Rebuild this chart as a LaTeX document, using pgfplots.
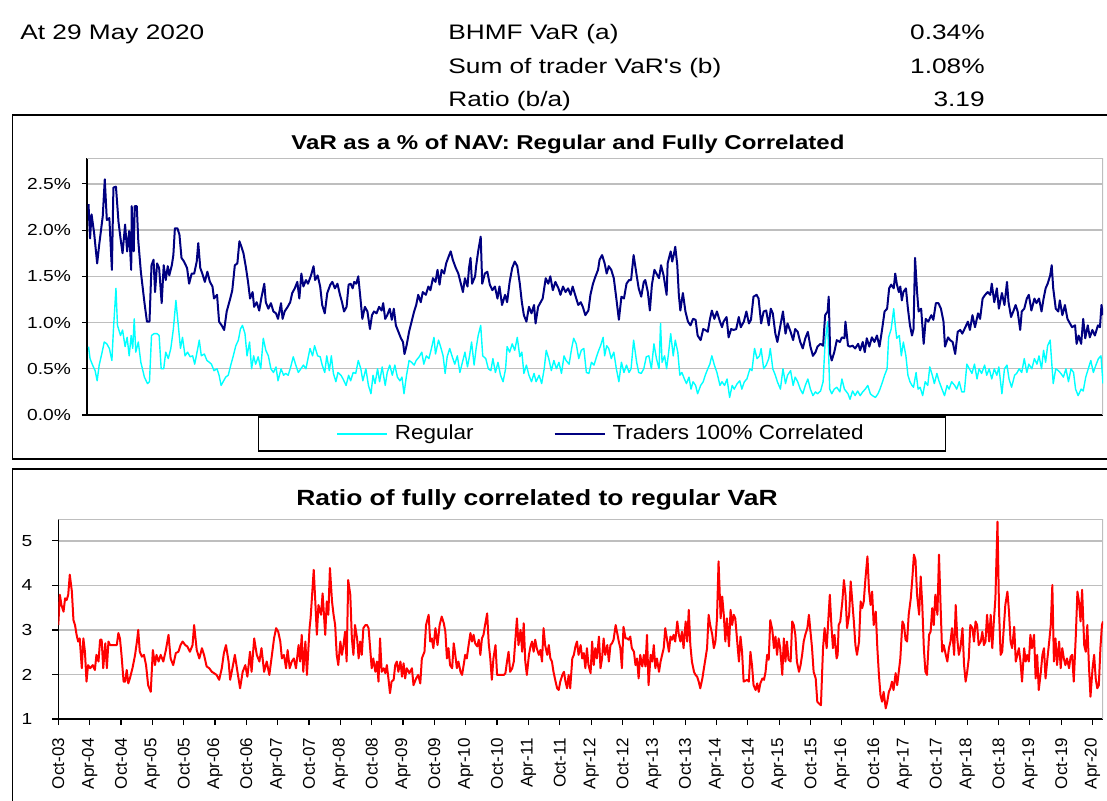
\documentclass[border=0pt]{standalone}
\usepackage{fontspec}
\setmainfont{Liberation Sans}[FakeStretch=1.2]
\newfontfamily\headfont{Liberation Sans}[FakeStretch=1.25]
\newfontfamily\legfont{Liberation Sans}[FakeStretch=1.1]
\newfontfamily\plainsans{Liberation Sans}
\usepackage{pgfplots}
\pgfplotsset{compat=1.18}
\definecolor{navyc}{RGB}{0,0,128}
\definecolor{aquac}{RGB}{0,255,255}
\definecolor{gridc}{RGB}{190,190,190}
\begin{document}
\begin{tikzpicture}
\useasboundingbox (0,0) rectangle (553.5pt,-400pt);
% header
\begin{scope}[every node/.style={inner sep=0pt,font=\headfont\fontsize{10.5}{12}\selectfont}]
\node[anchor=base west] at (10pt,-19.7pt) {At 29 May 2020};
\node[anchor=base west] at (224pt,-19.7pt) {BHMF VaR (a)};
\node[anchor=base west] at (224pt,-36.7pt) {Sum of trader VaR's (b)};
\node[anchor=base west] at (224pt,-53pt) {Ratio (b/a)};
\node[anchor=base east] at (492.5pt,-19.7pt) {0.34\%};
\node[anchor=base east] at (492.5pt,-36.7pt) {1.08\%};
\node[anchor=base east] at (492.5pt,-53pt) {3.19};
\end{scope}
% frames
\draw[line width=0.8pt] (6.25pt,-57.5pt) rectangle (556pt,-229.5pt);
\draw[line width=0.8pt] (6.25pt,-234.5pt) rectangle (556pt,-405pt);
% titles
\node[anchor=base,inner sep=0pt,font=\bfseries\fontsize{10}{12}\selectfont] at (284pt,-74.7pt) {VaR as a \% of NAV: Regular and Fully Correlated};
\node[anchor=base,inner sep=0pt,font=\bfseries\fontsize{11}{13}\selectfont] at (268.5pt,-252.8pt) {Ratio of fully correlated to regular VaR};

\begin{axis}[
  name=top,
  scale only axis, width=508pt, height=128.5pt,
  at={(43.5pt,-207.5pt)}, anchor=south west,
  xmin=0, xmax=200, ymin=0, ymax=2.78,
  xtick=\empty, ytick={0,0.5,1,1.5,2,2.5},
  /pgf/number format/assume math mode=true,
  yticklabel={\pgfmathprintnumber[fixed,fixed zerofill,precision=1]{\tick}\%},
  yticklabel style={font=\fontsize{8}{9}\selectfont, xshift=-2pt},
  axis lines*=left, axis line style={-, black, line width=0.8pt},
  tick style={black, line width=0.6pt}, major tick length=2.5pt, tick align=outside,
  ymajorgrids, grid style={gridc, line width=0.7pt},
  legend columns=2,
  legend style={at={(0.507,-0.074)}, anchor=center, draw=black, line width=0.8pt,
    font=\legfont\fontsize{10.2}{12}\selectfont, inner xsep=39pt, inner ysep=2pt,
    /tikz/every even column/.append style={column sep=38pt}},
  legend image code/.code={\draw[#1] (0pt,0pt) -- (25pt,0pt); \path (26.5pt,0pt);},
]
\draw[gridc, line width=0.6pt] (rel axis cs:0,1) -- (rel axis cs:1,1) -- (rel axis cs:1,0);
\addplot[aquac, line width=0.7pt, line join=round] coordinates {
(0.3,0.74)(0.6,0.61)(1.1,0.54)(1.6,0.48)(2.0,0.37)(2.4,0.54)(2.9,0.66)(3.4,0.79)(3.9,0.77)(4.4,0.72)
(4.9,0.59)(5.2,0.92)(5.7,1.37)(6.0,0.97)(6.6,0.86)(7.0,0.92)(7.5,0.74)(7.9,0.84)(8.3,0.64)(8.7,0.86)
(9.0,0.72)(9.3,1.04)(9.6,0.68)(10.1,0.79)(10.6,0.57)(11.3,0.41)(11.9,0.34)(12.3,0.36)(12.7,0.86)(13.2,0.88)
(13.8,0.88)(14.2,0.86)(14.6,0.50)(15.1,0.50)(15.5,0.68)(16.0,0.61)(16.5,0.72)(17.0,0.93)(17.5,1.24)(17.9,1.01)
(18.4,0.72)(18.8,0.84)(19.3,0.64)(19.8,0.68)(20.3,0.63)(20.8,0.64)(21.2,0.55)(21.8,0.72)(22.1,0.81)(22.5,0.64)
(23.1,0.66)(23.6,0.59)(24.1,0.57)(24.5,0.55)(25.0,0.48)(25.6,0.50)(26.0,0.43)(26.4,0.32)(26.9,0.37)(27.3,0.41)
(27.8,0.43)(28.3,0.54)(28.8,0.64)(29.3,0.75)(29.8,0.81)(30.2,0.93)(30.6,0.97)(31.1,0.88)(31.5,0.64)(32.0,0.79)
(32.4,0.50)(32.8,0.64)(33.2,0.55)(33.7,0.63)(34.2,0.50)(34.7,0.83)(35.2,0.70)(35.7,0.64)(36.2,0.50)(36.7,0.46)
(37.2,0.52)(37.6,0.37)(38.2,0.50)(38.7,0.43)(39.1,0.45)(39.6,0.43)(40.1,0.52)(40.6,0.63)(41.1,0.54)(41.6,0.46)
(42.1,0.50)(42.6,0.54)(43.1,0.50)(43.5,0.61)(43.9,0.72)(44.4,0.64)(44.8,0.75)(45.4,0.64)(45.9,0.63)(46.3,0.54)
(46.8,0.46)(47.2,0.64)(47.7,0.48)(48.1,0.64)(48.5,0.45)(49.0,0.36)(49.4,0.46)(50.0,0.43)(50.4,0.39)(51.0,0.32)
(51.5,0.43)(51.9,0.37)(52.4,0.46)(52.9,0.45)(53.4,0.59)(53.9,0.50)(54.3,0.37)(54.9,0.50)(55.4,0.32)(55.9,0.23)
(56.3,0.43)(56.7,0.34)(57.2,0.50)(57.6,0.36)(58.1,0.52)(58.7,0.32)(59.1,0.46)(59.6,0.54)(60.1,0.43)(60.6,0.54)
(61.1,0.41)(61.6,0.37)(62.0,0.41)(62.4,0.23)(62.9,0.43)(63.4,0.59)(63.9,0.57)(64.4,0.54)(64.8,0.59)(65.4,0.63)
(65.9,0.68)(66.3,0.55)(66.8,0.64)(67.3,0.61)(67.8,0.72)(68.3,0.84)(68.6,0.66)(69.2,0.81)(69.6,0.74)(70.1,0.64)
(70.5,0.45)(70.9,0.63)(71.4,0.72)(71.9,0.63)(72.4,0.55)(72.9,0.64)(73.4,0.46)(73.9,0.57)(74.4,0.68)(74.9,0.52)
(75.3,0.64)(75.7,0.79)(76.2,0.54)(76.6,0.72)(77.0,0.86)(77.5,0.97)(77.9,0.64)(78.5,0.61)(79.0,0.50)(79.5,0.48)
(79.9,0.61)(80.4,0.46)(80.9,0.57)(81.4,0.43)(81.9,0.36)(82.4,0.50)(82.7,0.74)(83.2,0.68)(83.7,0.77)(84.2,0.70)
(84.7,0.84)(85.2,0.63)(85.6,0.68)(86.0,0.45)(86.5,0.54)(87.0,0.43)(87.5,0.36)(88.0,0.45)(88.4,0.36)(89.0,0.43)
(89.5,0.34)(90.0,0.50)(90.4,0.70)(90.9,0.61)(91.4,0.48)(91.9,0.59)(92.4,0.50)(92.9,0.57)(93.4,0.45)(93.9,0.64)
(94.3,0.59)(94.9,0.55)(95.4,0.72)(95.8,0.83)(96.3,0.77)(96.8,0.61)(97.3,0.70)(97.8,0.72)(98.3,0.46)(98.8,0.45)
(99.3,0.57)(99.8,0.54)(100.3,0.63)(100.6,0.68)(101.1,0.75)(101.6,0.84)(101.9,0.64)(102.3,0.75)(102.7,0.72)(103.2,0.61)
(103.7,0.68)(104.2,0.50)(104.7,0.36)(105.2,0.57)(105.7,0.46)(106.2,0.54)(106.7,0.46)(107.1,0.50)(107.6,0.81)(108.2,0.57)
(108.6,0.46)(109.1,0.45)(109.6,0.50)(110.1,0.63)(110.6,0.64)(111.1,0.50)(111.6,0.77)(112.1,0.61)(112.6,0.50)(112.9,0.99)
(113.2,0.57)(113.7,0.64)(114.1,0.50)(114.5,0.68)(114.9,0.88)(115.4,0.64)(115.8,0.81)(116.3,0.68)(116.7,0.43)(117.1,0.46)
(117.6,0.39)(118.0,0.34)(118.5,0.41)(118.9,0.28)(119.3,0.36)(119.8,0.32)(120.2,0.23)(120.8,0.32)(121.3,0.36)(121.7,0.43)
(122.2,0.50)(122.6,0.55)(123.0,0.64)(123.5,0.54)(124.0,0.46)(124.6,0.32)(125.0,0.36)(125.5,0.32)(126.0,0.39)(126.5,0.19)
(127.0,0.32)(127.4,0.28)(128.0,0.34)(128.5,0.37)(128.9,0.28)(129.4,0.36)(129.9,0.39)(130.5,0.50)(130.9,0.48)(131.4,0.72)
(131.9,0.61)(132.4,0.64)(132.7,0.72)(133.2,0.50)(133.7,0.54)(134.2,0.61)(134.5,0.72)(135.0,0.50)(135.5,0.43)(135.9,0.36)
(136.5,0.28)(137.0,0.50)(137.5,0.34)(137.9,0.43)(138.5,0.48)(139.0,0.32)(139.4,0.41)(139.9,0.36)(140.4,0.28)(140.9,0.23)
(141.4,0.32)(141.9,0.39)(142.4,0.28)(142.9,0.21)(143.4,0.25)(143.8,0.23)(144.4,0.26)(144.9,0.36)(145.3,0.79)(145.8,1.01)
(146.2,0.28)(146.6,0.23)(147.1,0.28)(147.6,0.30)(148.2,0.25)(148.6,0.39)(149.1,0.28)(149.8,0.23)(150.2,0.17)(150.7,0.26)
(151.2,0.21)(151.7,0.26)(152.2,0.21)(152.7,0.25)(153.2,0.28)(153.7,0.32)(154.2,0.23)(154.6,0.21)(155.2,0.19)(155.7,0.23)
(156.1,0.28)(156.6,0.36)(157.0,0.43)(157.5,0.50)(157.8,0.84)(158.3,0.93)(158.8,1.15)(159.1,0.97)(159.4,0.83)(159.9,0.86)
(160.3,0.64)(160.7,0.79)(161.2,0.64)(161.6,0.43)(162.0,0.36)(162.4,0.32)(162.7,0.30)(163.2,0.46)(163.6,0.28)(164.0,0.30)
(164.5,0.21)(165.0,0.36)(165.5,0.32)(165.9,0.52)(166.4,0.43)(166.8,0.34)(167.3,0.45)(167.7,0.37)(168.3,0.28)(168.8,0.21)
(169.3,0.32)(169.7,0.28)(170.2,0.36)(170.8,0.32)(171.2,0.28)(171.7,0.36)(172.2,0.25)(172.7,0.25)(173.2,0.55)(173.7,0.50)
(174.2,0.45)(174.7,0.55)(175.2,0.39)(175.6,0.50)(176.1,0.45)(176.7,0.54)(177.1,0.43)(177.6,0.50)(178.1,0.39)(178.6,0.50)
(179.1,0.43)(179.5,0.52)(180.1,0.23)(180.6,0.50)(181.1,0.54)(181.5,0.39)(182.0,0.30)(182.6,0.43)(183.0,0.45)(183.5,0.50)
(184.0,0.46)(184.5,0.61)(185.0,0.46)(185.4,0.55)(186.0,0.50)(186.5,0.61)(187.0,0.55)(187.4,0.64)(187.9,0.50)(188.3,0.70)
(188.7,0.57)(189.1,0.75)(189.6,0.81)(189.9,0.57)(190.2,0.34)(190.7,0.50)(191.2,0.48)(191.7,0.45)(192.2,0.41)(192.7,0.50)
(193.2,0.36)(193.7,0.50)(194.2,0.46)(194.6,0.28)(195.1,0.21)(195.7,0.28)(196.1,0.26)(196.6,0.41)(197.1,0.50)(197.6,0.59)
(198.1,0.46)(198.6,0.54)(199.1,0.61)(199.6,0.64)(200.0,0.34)
};
\addlegendentry{Regular}
\addplot[navyc, line width=1pt, line join=round] coordinates {
(0.3,2.28)(0.6,1.91)(0.9,2.17)(1.4,1.97)(2.0,1.64)(2.4,1.84)(3.1,2.15)(3.5,2.55)(3.9,2.11)(4.4,2.13)
(4.9,1.57)(5.2,2.46)(5.7,2.47)(6.2,2.09)(6.6,1.91)(7.0,1.75)(7.5,2.06)(7.9,1.77)(8.3,1.99)(8.7,1.57)
(8.8,2.26)(9.2,1.77)(9.4,2.26)(9.8,2.26)(10.1,1.88)(10.6,1.55)(11.3,1.22)(11.8,1.01)(12.3,1.01)(12.7,1.62)
(13.1,1.68)(13.4,1.33)(13.8,1.64)(14.2,1.59)(14.7,1.21)(15.1,1.62)(15.5,1.46)(15.9,1.61)(16.2,1.51)(16.7,1.62)
(17.0,1.73)(17.3,2.02)(17.8,2.02)(18.2,1.95)(18.6,1.70)(19.1,1.66)(19.7,1.59)(20.1,1.42)(20.6,1.53)(21.1,1.53)
(21.6,1.66)(21.9,1.86)(22.3,1.59)(22.7,1.53)(23.2,1.44)(23.7,1.55)(24.2,1.44)(24.7,1.39)(25.0,1.26)(25.6,1.30)
(26.0,1.01)(26.5,0.97)(27.0,0.92)(27.5,1.12)(28.2,1.26)(28.6,1.35)(29.1,1.62)(29.6,1.64)(30.0,1.88)(30.4,1.82)
(30.8,1.75)(31.3,1.59)(31.7,1.44)(32.1,1.26)(32.6,1.33)(32.9,1.17)(33.4,1.22)(33.9,1.13)(34.3,1.26)(34.9,1.42)
(35.2,1.22)(35.7,1.15)(36.2,1.21)(36.7,1.12)(37.2,1.10)(37.6,1.04)(38.2,1.21)(38.5,1.04)(38.9,1.12)(39.5,1.17)
(40.0,1.22)(40.4,1.32)(40.9,1.37)(41.4,1.44)(41.8,1.26)(42.2,1.53)(42.6,1.39)(43.1,1.46)(43.5,1.42)(44.1,1.51)
(44.6,1.61)(44.9,1.46)(45.4,1.51)(45.9,1.39)(46.3,1.19)(46.8,1.10)(47.3,1.32)(47.9,1.41)(48.3,1.44)(48.8,1.37)
(49.3,1.42)(49.8,1.30)(50.2,1.22)(50.6,1.12)(51.1,1.17)(51.5,1.41)(51.9,1.42)(52.3,1.37)(52.6,1.44)(53.0,1.42)
(53.4,1.50)(53.9,1.22)(54.2,1.04)(54.7,1.17)(55.2,1.12)(55.7,0.93)(56.1,1.08)(56.5,1.12)(57.0,1.10)(57.5,1.17)
(58.0,1.13)(58.3,1.21)(58.7,1.04)(59.1,1.08)(59.6,1.15)(60.0,1.03)(60.4,1.15)(60.8,0.97)(61.3,0.90)(61.8,0.83)
(62.2,0.79)(62.5,0.66)(62.9,0.75)(63.4,0.90)(63.9,1.01)(64.4,1.12)(64.8,1.19)(65.2,1.30)(65.7,1.22)(66.1,1.33)
(66.7,1.30)(67.2,1.39)(67.6,1.35)(68.1,1.48)(68.6,1.44)(69.0,1.57)(69.4,1.41)(69.8,1.57)(70.3,1.53)(70.7,1.64)
(71.3,1.73)(71.6,1.77)(72.0,1.68)(72.6,1.59)(73.1,1.53)(73.5,1.44)(74.0,1.33)(74.4,1.48)(74.9,1.39)(75.2,1.59)
(75.5,1.70)(75.8,1.42)(76.4,1.50)(76.6,1.61)(77.0,1.77)(77.5,1.93)(77.8,1.42)(78.3,1.53)(78.8,1.55)(79.3,1.41)
(79.8,1.35)(80.3,1.39)(80.8,1.26)(81.2,1.39)(81.7,1.19)(82.3,1.30)(82.7,1.22)(83.2,1.44)(83.7,1.59)(84.2,1.66)
(84.7,1.61)(85.2,1.42)(85.6,1.22)(86.0,1.08)(86.5,1.01)(87.0,1.17)(87.5,1.10)(88.0,1.19)(88.3,0.99)(88.8,1.17)
(89.3,1.22)(89.7,1.26)(90.3,1.48)(90.8,1.42)(91.2,1.50)(91.7,1.35)(92.2,1.44)(92.8,1.37)(93.2,1.30)(93.7,1.39)
(94.2,1.33)(94.7,1.37)(95.2,1.30)(95.6,1.39)(96.2,1.28)(96.7,1.19)(97.2,1.22)(97.6,1.17)(98.1,1.08)(98.7,1.13)
(99.1,1.30)(99.6,1.42)(100.1,1.50)(100.6,1.57)(100.9,1.68)(101.4,1.73)(101.9,1.64)(102.3,1.53)(102.7,1.61)(103.2,1.57)
(103.7,1.48)(104.2,1.26)(104.7,1.03)(105.2,1.28)(105.7,1.26)(106.2,1.42)(106.7,1.46)(107.1,1.46)(107.6,1.73)(108.2,1.51)
(108.6,1.37)(109.1,1.28)(109.6,1.44)(109.9,1.46)(110.4,1.33)(110.8,1.13)(111.2,1.41)(111.7,1.57)(112.1,1.53)(112.6,1.48)
(113.0,1.62)(113.5,1.51)(114.1,1.30)(114.3,1.64)(114.9,1.77)(115.2,1.66)(115.5,1.73)(115.8,1.82)(116.2,1.62)(116.5,1.30)
(116.8,1.13)(117.3,1.32)(117.8,1.12)(118.3,1.01)(118.8,0.97)(119.3,1.04)(119.8,1.03)(120.2,0.86)(120.8,0.81)(121.3,0.93)
(121.7,0.92)(122.2,0.90)(122.6,1.03)(123.0,1.13)(123.5,1.04)(124.0,1.12)(124.6,1.01)(125.0,0.95)(125.3,1.01)(125.9,1.06)
(126.3,0.84)(126.8,0.93)(127.3,0.92)(127.8,0.93)(128.3,1.06)(128.7,0.95)(129.3,1.01)(129.8,1.12)(130.3,0.99)(130.7,1.03)
(131.2,1.28)(131.8,1.30)(132.2,1.26)(132.7,0.99)(133.2,1.12)(133.7,1.13)(134.2,0.97)(134.6,1.15)(135.0,1.10)(135.5,0.88)
(135.9,0.79)(136.5,0.97)(137.0,1.12)(137.5,0.88)(137.9,0.99)(138.5,0.90)(139.0,0.81)(139.4,0.93)(139.9,0.90)(140.4,0.79)
(140.9,0.72)(141.4,0.83)(141.9,0.90)(142.4,0.74)(142.9,0.64)(143.4,0.68)(143.8,0.74)(144.4,0.77)(144.9,0.75)(145.3,1.08)
(145.8,1.12)(146.0,1.28)(146.3,0.66)(146.6,0.59)(147.1,0.68)(147.6,0.81)(148.2,0.79)(148.6,0.84)(149.1,0.83)(149.3,1.01)
(149.8,0.75)(150.2,0.74)(150.7,0.75)(151.2,0.72)(151.8,0.77)(152.2,0.70)(152.7,0.79)(153.1,0.68)(153.5,0.83)(154.0,0.74)
(154.5,0.84)(155.0,0.79)(155.5,0.86)(156.0,0.74)(156.5,0.92)(157.0,1.12)(157.5,1.15)(157.9,1.37)(158.3,1.41)(158.8,1.37)
(159.1,1.53)(159.4,1.42)(159.8,1.33)(160.1,1.39)(160.4,1.24)(160.7,1.33)(161.2,1.37)(161.6,1.15)(162.0,0.97)(162.4,0.86)
(162.7,0.93)(163.0,1.70)(163.4,1.33)(163.7,1.12)(164.2,1.15)(164.7,0.77)(165.1,1.04)(165.6,1.01)(166.2,1.08)(166.6,1.03)
(167.1,1.21)(167.6,1.21)(168.1,1.15)(168.6,1.01)(168.9,0.74)(169.5,0.84)(169.9,0.81)(170.4,0.79)(170.9,0.66)(171.4,0.90)
(171.9,0.92)(172.3,0.88)(172.9,0.95)(173.4,1.01)(173.8,0.92)(174.3,1.08)(174.8,0.95)(175.4,1.10)(175.8,1.04)(176.3,1.26)
(176.8,1.30)(177.3,1.33)(177.8,1.30)(178.1,1.42)(178.6,1.22)(179.1,1.37)(179.5,1.15)(180.1,1.32)(180.6,1.19)(181.1,1.44)
(181.4,1.22)(181.9,1.06)(182.4,1.13)(182.8,1.19)(183.2,1.12)(183.7,0.92)(184.0,1.12)(184.5,1.15)(185.0,1.26)(185.4,1.30)
(185.9,1.13)(186.5,1.26)(186.9,1.21)(187.4,1.26)(187.9,1.12)(188.3,1.26)(188.7,1.37)(189.1,1.42)(189.6,1.51)(189.9,1.62)
(190.2,1.37)(190.7,1.15)(191.2,1.12)(191.5,1.24)(192.0,1.08)(192.5,1.19)(193.0,1.04)(193.5,0.99)(193.9,0.95)(194.5,0.97)
(194.8,0.77)(195.2,0.86)(195.7,0.77)(196.1,1.04)(196.5,0.83)(197.0,0.97)(197.4,0.84)(197.9,0.92)(198.4,0.86)(199.0,0.97)
(199.4,0.95)(199.7,1.19)(200.0,1.08)
};
\addlegendentry{Traders 100\% Correlated}
\end{axis}

\begin{axis}[
  name=bottom,
  scale only axis, width=522.35pt, height=100pt,
  at={(29.15pt,-359.5pt)}, anchor=south west,
  xmin=0, xmax=200, ymin=1, ymax=5.49,
  ytick={1,2,3,4,5},
  xtick={0,6,...,198},
  xticklabels={Oct-03,Apr-04,Oct-04,Apr-05,Oct-05,Apr-06,Oct-06,Apr-07,Oct-07,Apr-08,Oct-08,Apr-09,Oct-09,Apr-10,Oct-10,Apr-11,Oct-11,Apr-12,Oct-12,Apr-13,Oct-13,Apr-14,Oct-14,Apr-15,Oct-15,Apr-16,Oct-16,Apr-17,Oct-17,Apr-18,Oct-18,Apr-19,Oct-19,Apr-20},
  xticklabel style={rotate=90, anchor=east, font=\plainsans\fontsize{8.5}{9}\selectfont, xshift=-3pt},
  /pgf/number format/assume math mode=true,
  yticklabel style={font=\fontsize{8}{9}\selectfont, xshift=-6.5pt},
  axis lines*=left, axis line style={-, black, line width=0.8pt},
  tick style={black, line width=0.6pt}, major tick length=3pt, tick align=outside,
  ymajorgrids, grid style={gridc, line width=0.7pt},
]
\draw[gridc, line width=0.6pt] (rel axis cs:0,1) -- (rel axis cs:1,1) -- (rel axis cs:1,0);
\addplot[red, line width=1pt, line join=round] coordinates {
(0.0,3.11)(0.3,3.79)(0.6,3.56)(1.0,3.41)(1.3,3.71)(1.6,3.67)(1.9,3.79)(2.2,4.24)(2.6,3.86)(2.9,3.22)
(3.2,3.11)(3.5,2.89)(3.8,2.74)(4.1,2.81)(4.5,2.14)(4.8,2.81)(5.1,2.51)(5.4,1.84)(5.7,2.21)(6.1,2.14)
(6.6,2.21)(7.0,2.10)(7.3,2.44)(7.7,2.29)(8.0,2.78)(8.3,2.78)(8.6,2.14)(9.0,2.70)(9.3,2.14)(9.6,2.74)
(9.9,2.66)(10.5,2.66)(11.2,2.66)(11.5,2.93)(11.8,2.81)(12.1,2.44)(12.5,1.84)(12.8,1.84)(13.1,2.10)(13.4,1.80)
(13.7,1.91)(14.2,2.14)(14.7,2.44)(15.1,2.78)(15.3,3.00)(15.6,2.51)(16.0,2.40)(16.4,2.44)(16.8,2.21)(17.2,1.76)
(17.7,1.61)(18.1,2.55)(18.5,2.21)(18.8,2.44)(19.2,2.29)(19.6,2.44)(20.1,2.29)(20.6,2.55)(21.1,2.89)(21.5,2.36)
(22.0,2.21)(22.5,2.48)(23.0,2.51)(23.4,2.66)(23.8,2.74)(24.3,2.66)(24.7,2.63)(25.2,2.51)(25.7,2.66)(26.0,3.11)
(26.5,2.55)(27.0,2.36)(27.5,2.59)(27.9,2.44)(28.4,2.18)(28.9,2.14)(29.4,2.06)(29.8,2.03)(30.3,1.99)(30.8,1.88)
(31.3,2.14)(31.7,2.48)(32.1,2.66)(32.6,2.29)(32.9,1.88)(33.4,2.18)(33.8,2.44)(34.3,2.06)(34.8,1.69)(35.3,2.06)
(35.8,2.21)(36.2,1.95)(36.7,2.51)(37.0,2.06)(37.5,2.81)(38.0,2.44)(38.5,2.29)(38.9,2.59)(39.4,2.06)(39.9,2.29)
(40.4,1.99)(40.9,2.44)(41.3,2.81)(41.7,3.04)(42.1,2.96)(42.5,2.74)(42.8,2.36)(43.2,2.44)(43.6,2.14)(43.9,2.55)
(44.3,2.14)(44.7,2.29)(45.1,2.36)(45.5,2.14)(46.0,2.66)(46.3,2.29)(46.6,2.89)(46.9,2.06)(47.3,2.74)(47.6,1.99)
(48.1,3.04)(48.3,3.26)(48.9,4.35)(49.2,3.64)(49.5,2.89)(49.8,3.56)(50.3,3.34)(50.6,3.82)(51.1,2.89)(51.4,3.64)
(51.7,3.34)(52.0,4.39)(52.4,3.64)(52.7,3.34)(53.0,3.11)(53.3,2.44)(53.6,2.21)(54.0,2.74)(54.3,2.44)(54.6,2.66)
(54.9,2.96)(55.2,2.29)(55.5,4.12)(55.9,3.79)(56.2,2.81)(56.5,2.44)(56.8,3.11)(57.2,2.81)(57.5,2.36)(57.8,2.74)
(58.1,2.44)(58.4,3.04)(58.8,3.11)(59.1,3.11)(59.4,3.04)(59.7,2.59)(60.0,2.14)(60.3,2.36)(60.7,2.06)(61.0,2.29)
(61.3,1.84)(61.6,2.81)(61.9,2.06)(62.3,2.14)(62.6,2.03)(62.9,2.21)(63.2,1.91)(63.5,1.58)(63.8,1.84)(64.2,1.88)
(64.5,2.21)(64.8,2.29)(65.1,2.06)(65.5,2.29)(65.8,1.95)(66.1,2.25)(66.4,1.91)(66.7,2.14)(67.2,2.03)(67.7,2.14)
(68.0,1.76)(68.5,1.91)(68.9,1.99)(69.3,1.80)(69.6,2.36)(70.1,2.51)(70.4,3.11)(70.9,3.34)(71.2,2.74)(71.5,2.81)
(71.8,2.59)(72.2,3.04)(72.6,2.66)(73.0,3.11)(73.4,3.30)(73.8,3.15)(74.1,2.96)(74.4,2.36)(74.7,2.59)(75.0,2.21)
(75.4,2.14)(75.7,2.70)(76.0,2.44)(76.3,2.14)(76.6,2.29)(77.0,2.06)(77.3,1.99)(77.6,2.21)(77.9,2.44)(78.2,2.36)
(78.6,2.70)(78.9,2.93)(79.2,2.74)(79.5,2.89)(79.8,2.70)(80.2,2.63)(80.5,2.78)(80.8,2.44)(81.1,2.81)(81.4,2.89)
(81.7,3.11)(82.1,3.37)(82.4,2.70)(82.7,2.36)(83.0,1.88)(83.3,2.36)(83.7,2.66)(84.0,1.99)(84.3,1.99)(84.6,1.99)
(85.3,1.99)(85.6,2.03)(85.9,2.29)(86.2,2.51)(86.5,2.06)(86.9,2.14)(87.2,2.29)(87.5,2.78)(87.8,3.26)(88.1,2.66)
(88.5,3.00)(88.8,2.51)(89.1,3.15)(89.4,2.29)(89.7,1.99)(90.1,2.44)(90.4,2.63)(90.7,2.74)(91.0,2.51)(91.3,2.78)
(91.6,2.59)(92.0,2.44)(92.3,2.55)(92.6,2.29)(92.9,3.04)(93.2,2.66)(93.6,2.44)(93.9,2.66)(94.2,2.36)(94.5,2.29)
(94.8,2.06)(95.2,1.84)(95.5,1.69)(95.8,1.65)(96.1,1.84)(96.5,1.99)(96.8,2.06)(97.1,1.84)(97.4,1.69)(97.7,1.99)
(98.0,1.69)(98.4,2.36)(98.7,2.44)(99.0,2.63)(99.3,2.74)(99.6,2.44)(100.0,2.66)(100.3,2.36)(100.6,2.48)(100.9,2.14)
(101.2,2.59)(101.5,2.21)(101.9,2.03)(102.2,2.74)(102.5,2.21)(102.8,2.59)(103.1,2.36)(103.5,2.85)(103.8,2.14)(104.1,2.36)
(104.4,2.81)(104.7,2.44)(105.1,2.66)(105.4,2.29)(105.7,2.66)(106.0,2.70)(106.3,2.78)(106.7,3.11)(107.0,2.93)(107.3,2.74)
(107.6,2.59)(107.9,2.14)(108.2,3.07)(108.6,2.81)(108.9,2.81)(109.2,2.78)(109.5,2.85)(109.8,2.59)(110.2,2.51)(110.5,2.21)
(110.8,2.36)(111.1,1.91)(111.4,2.44)(111.8,2.18)(112.1,2.44)(112.4,2.18)(112.7,2.89)(113.0,1.76)(113.4,2.44)(113.7,2.29)
(114.0,2.66)(114.3,2.14)(114.6,2.36)(115.0,2.06)(115.3,2.29)(115.6,2.44)(115.9,2.59)(116.2,3.04)(116.5,2.81)(116.9,2.51)
(117.2,2.85)(117.5,2.78)(117.8,2.89)(118.1,2.74)(118.5,3.19)(118.8,2.89)(119.1,2.74)(119.4,2.96)(119.7,2.59)(120.1,3.19)
(120.4,2.74)(120.7,3.45)(121.0,2.66)(121.3,2.29)(121.7,2.06)(122.0,1.99)(122.3,1.95)(122.6,1.84)(122.9,1.69)(123.3,1.91)
(123.6,2.14)(123.9,2.36)(124.2,2.59)(124.5,3.34)(124.8,3.11)(125.2,2.89)(125.5,2.59)(125.8,2.74)(126.1,3.26)(126.4,4.54)
(126.8,3.26)(127.1,3.75)(127.4,3.34)(127.7,2.74)(128.0,3.26)(128.4,2.63)(128.7,3.45)(129.0,3.11)(129.3,3.34)(129.6,3.26)
(130.0,2.70)(130.3,2.29)(130.6,2.85)(130.9,2.51)(131.2,1.84)(131.9,1.88)(132.2,1.84)(132.5,2.51)(132.8,2.21)(133.1,1.76)
(133.5,1.65)(133.8,1.80)(134.1,1.61)(134.4,1.80)(134.8,1.91)(135.1,1.88)(135.4,2.06)(135.7,2.44)(136.0,2.33)(136.3,3.22)
(136.7,3.00)(137.0,2.59)(137.3,2.85)(137.6,2.44)(137.9,2.81)(138.2,2.59)(138.6,1.99)(138.9,2.81)(139.2,2.29)(139.5,2.74)
(139.8,2.33)(140.2,2.29)(140.5,3.19)(140.8,3.11)(141.1,2.89)(141.4,2.29)(141.8,2.06)(142.1,2.21)(142.4,2.44)(142.7,2.74)
(143.0,2.89)(143.4,3.04)(143.7,3.34)(144.0,2.96)(144.3,2.59)(144.6,2.06)(145.0,1.91)(145.3,1.39)(145.6,1.35)(146.0,1.31)
(146.4,2.59)(146.7,3.04)(147.1,2.59)(147.3,3.00)(147.7,3.79)(148.0,3.11)(148.3,2.59)(148.6,2.89)(149.0,2.36)(149.2,2.44)
(149.4,3.11)(149.7,3.19)(150.1,3.64)(150.4,4.12)(150.7,3.79)(151.0,3.04)(151.4,3.34)(151.7,4.09)(152.0,3.64)(152.3,3.19)
(152.6,2.66)(152.9,2.44)(153.3,2.74)(153.6,3.64)(153.9,3.49)(154.2,3.64)(154.5,4.12)(154.9,4.65)(155.2,3.90)(155.5,3.56)
(155.8,3.86)(156.1,3.11)(156.5,3.41)(156.8,2.59)(157.1,1.99)(157.4,1.54)(157.7,1.39)(158.0,1.61)(158.4,1.24)(158.7,1.39)
(159.0,1.61)(159.3,1.69)(159.6,1.84)(159.9,1.65)(160.3,2.03)(160.6,1.76)(160.9,2.06)(161.2,2.36)(161.6,3.19)(161.9,3.11)
(162.2,2.78)(162.5,2.74)(162.8,3.34)(163.2,3.71)(163.5,4.16)(163.8,4.69)(164.1,4.57)(164.4,3.79)(164.8,3.34)(165.1,4.20)
(165.4,3.56)(165.7,2.59)(166.0,2.06)(166.3,1.99)(166.7,2.89)(167.0,2.96)(167.3,3.49)(167.6,3.11)(167.9,3.79)(168.3,3.34)
(168.6,4.69)(168.9,3.56)(169.2,2.51)(169.5,2.66)(169.9,2.44)(170.2,2.29)(170.5,2.59)(170.8,2.74)(171.1,3.04)(171.5,2.44)
(171.8,3.56)(172.1,2.81)(172.4,2.44)(172.7,2.59)(173.1,3.04)(173.4,2.21)(173.7,1.84)(174.0,2.06)(174.3,2.36)(174.6,3.11)
(175.0,3.04)(175.3,2.74)(175.6,3.19)(175.9,3.11)(176.2,2.66)(176.6,2.74)(176.9,2.96)(177.2,2.66)(177.5,2.74)(177.8,3.34)
(178.2,2.74)(178.5,3.34)(178.8,2.59)(179.1,3.19)(179.4,3.71)(179.8,5.43)(180.1,3.41)(180.4,2.44)(180.7,2.51)(181.0,3.04)
(181.3,3.56)(181.7,3.86)(182.0,3.41)(182.3,2.74)(182.6,2.59)(183.0,3.07)(183.3,2.29)(183.6,2.44)(183.9,2.59)(184.2,2.29)
(184.5,1.84)(184.9,2.59)(185.2,2.29)(185.5,2.44)(185.8,2.29)(186.1,2.89)(186.4,2.59)(186.8,2.89)(187.1,1.91)(187.4,2.44)
(187.7,1.65)(188.1,2.06)(188.4,2.44)(188.7,2.59)(189.0,1.91)(189.3,2.29)(189.7,2.74)(190.0,3.11)(190.3,4.01)(190.6,2.29)
(190.9,2.81)(191.2,2.21)(191.6,2.74)(191.9,2.14)(192.2,2.59)(192.5,2.36)(192.8,2.21)(193.1,2.36)(193.5,2.14)(193.8,2.40)
(194.1,2.44)(194.4,1.84)(194.8,2.89)(195.1,3.86)(195.4,3.64)(195.7,3.19)(196.0,3.90)(196.4,2.66)(196.7,2.51)(197.0,3.11)
(197.3,2.21)(197.6,1.50)(198.0,2.14)(198.3,2.44)(198.6,1.91)(198.9,1.69)(199.2,1.76)(199.5,2.59)(199.8,3.11)(200.0,3.19)
};
\end{axis}
\end{tikzpicture}
\end{document}
